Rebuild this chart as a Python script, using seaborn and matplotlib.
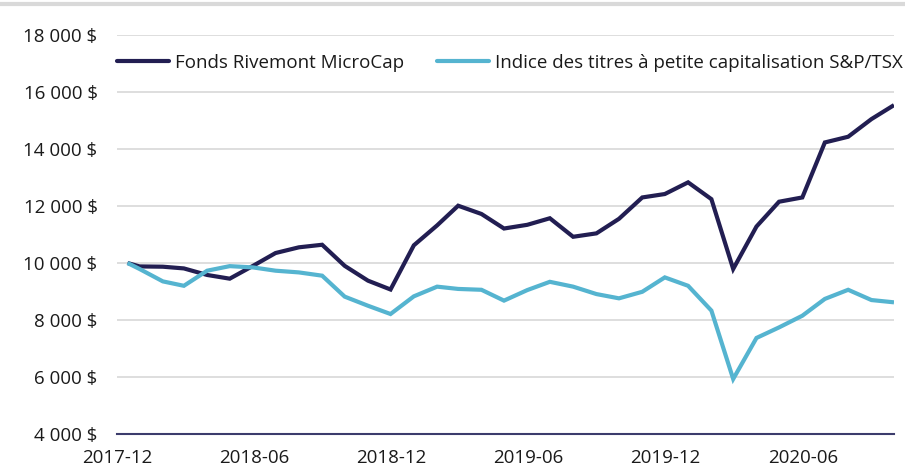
import matplotlib
matplotlib.use("Agg")
import matplotlib.pyplot as plt
import matplotlib.dates as mdates
from matplotlib.ticker import FuncFormatter, MultipleLocator
from matplotlib.lines import Line2D
import pandas as pd
import seaborn as sns

dates = ["2017-12-15", "2017-12-31",
         "2018-01-31", "2018-02-28", "2018-03-31", "2018-04-30", "2018-05-31", "2018-06-30",
         "2018-07-31", "2018-08-31", "2018-09-30", "2018-10-31", "2018-11-30", "2018-12-31",
         "2019-01-31", "2019-02-28", "2019-03-31", "2019-04-30", "2019-05-31", "2019-06-30",
         "2019-07-31", "2019-08-31", "2019-09-30", "2019-10-31", "2019-11-30", "2019-12-31",
         "2020-01-31", "2020-02-29", "2020-03-31", "2020-04-30", "2020-05-31", "2020-06-30",
         "2020-07-31", "2020-08-31", "2020-09-30"]

fonds = [10000, 9880,
         9870, 9810, 9580, 9450, 9900, 10350, 10550, 10640, 9900, 9380, 9070, 10620,
         11320, 12010, 11720, 11210, 11340, 11570, 10920, 11040, 11550, 12300, 12420, 12830,
         12240, 9790, 11280, 12150, 12300, 14230, 14430, 15050, 15540]

indice = [10000, 9790,
          9355, 9200, 9730, 9890, 9845, 9730, 9670, 9555, 8820, 8500, 8210, 8830,
          9170, 9090, 9060, 8680, 9050, 9340, 9170, 8910, 8760, 8990, 9495, 9200,
          8330, 5930, 7370, 7740, 8150, 8740, 9060, 8700, 8620]

series_names = ["Fonds Rivemont MicroCap",
                "Indice des titres à petite capitalisation S&P/TSX"]
tick_dates = ["2017-12-01", "2018-06-01", "2018-12-01", "2019-06-01", "2019-12-01", "2020-06-01"]

colors = {series_names[0]: "#221e52", series_names[1]: "#55b4d0"}

df = pd.DataFrame({
    "date": pd.to_datetime(dates * 2),
    "valeur": fonds + indice,
    "serie": [series_names[0]] * len(dates) + [series_names[1]] * len(dates),
})

sns.set_theme(style="white")
plt.rcParams["font.family"] = ["Open Sans", "DejaVu Sans"]

fig = plt.figure(figsize=(9.05, 4.68), dpi=100)
ax = fig.add_axes([117 / 905, 1 - 434 / 468, (894 - 117) / 905, (434 - 35) / 468])

sns.lineplot(data=df, x="date", y="valeur", hue="serie", palette=colors,
             linewidth=3.0, ax=ax, legend=False, sort=False)
for ln in ax.get_lines():
    ln.set_solid_joinstyle("miter")
    ln.set_solid_capstyle("butt")

ax.set_ylim(4000, 18000)
ax.yaxis.set_major_locator(MultipleLocator(2000))
ax.yaxis.set_major_formatter(FuncFormatter(lambda v, p: f"{v:,.0f}".replace(",", " ") + " $"))
ax.set_xlim(pd.Timestamp("2017-12-01"), pd.Timestamp("2020-09-30"))
ax.set_xticks(pd.to_datetime(tick_dates))
ax.xaxis.set_major_formatter(mdates.DateFormatter("%Y-%m"))

ax.grid(axis="y", color="#d4d4d4", linewidth=1.1)
ax.grid(axis="x", visible=False)
ax.set_axisbelow(True)
for s in ["top", "right", "left"]:
    ax.spines[s].set_visible(False)
ax.spines["bottom"].set_color("#3c3c6c")
ax.spines["bottom"].set_linewidth(1.5)
ax.tick_params(axis="x", direction="out", length=6, width=1.0, color="#3c3c6c",
               labelsize=13.5, labelcolor="#1a1a1a", pad=5)
ax.tick_params(axis="y", length=0, labelsize=13.5, labelcolor="#1a1a1a", pad=14)
ax.set_xlabel("")
ax.set_ylabel("")

handles = [Line2D([0], [0], color=colors[n], lw=3.0) for n in series_names]
ax.legend(handles, series_names, loc="center left", bbox_to_anchor=(0.0, 0.93),
          ncol=2, frameon=False, fontsize=13.5, handlelength=2.77, handletextpad=0.32,
          columnspacing=1.76, borderpad=0, borderaxespad=0, labelcolor="#1a1a1a")

fig.add_artist(Line2D([0, 1], [1 - 4 / 468, 1 - 4 / 468], transform=fig.transFigure,
                      color="#d9d9d9", lw=3))

fig.savefig("out.png", dpi=100)
